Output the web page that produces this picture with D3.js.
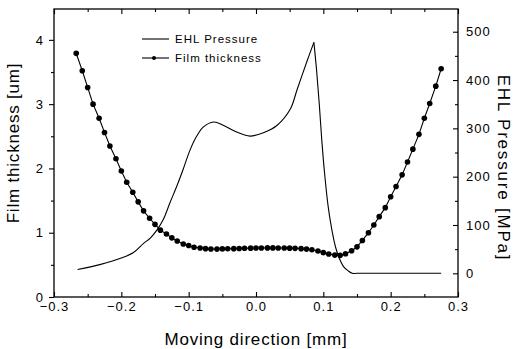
<!DOCTYPE html>
<html>
<head>
<meta charset="utf-8">
<script src="https://cdn.jsdelivr.net/npm/d3@7"></script>
<style>
  html, body { margin: 0; padding: 0; background: #fff; }
  svg { display: block; }
</style>
</head>
<body>
<div id="chart"></div>
<script>
// tick labels
const xTicks = [-0.3, -0.2, -0.1, 0.0, 0.1, 0.2, 0.3];
const xMinorTicks = [-0.25, -0.15, -0.05, 0.05, 0.15, 0.25];
const thicknessTicks = [0, 1, 2, 3, 4];
const thicknessMinorTicks = [0.5, 1.5, 2.5, 3.5];
const pressureTicks = [0, 100, 200, 300, 400, 500];
const pressureMinorTicks = [50, 150, 250, 350, 450];

// film thickness [um], one dot per position
const filmX = [-0.267, -0.258, -0.250, -0.242, -0.233, -0.225, -0.217, -0.208, -0.200, -0.192,
               -0.183, -0.175, -0.167, -0.158, -0.150, -0.142, -0.133, -0.125, -0.117, -0.108,
               -0.100, -0.092, -0.083, -0.075, -0.067, -0.058, -0.050, -0.042, -0.033, -0.025,
               -0.017, -0.008, 0.000, 0.008, 0.017, 0.025, 0.033, 0.042, 0.050, 0.058,
               0.067, 0.075, 0.083, 0.092, 0.100, 0.108, 0.117, 0.125, 0.133, 0.142,
               0.150, 0.158, 0.167, 0.175, 0.183, 0.192, 0.200, 0.208, 0.217, 0.225,
               0.233, 0.242, 0.250, 0.258, 0.267, 0.275];
const filmThickness = [3.79, 3.52, 3.26, 3.00, 2.78, 2.56, 2.35, 2.15, 1.96, 1.785,
                       1.63, 1.48, 1.34, 1.225, 1.13, 1.04, 0.98, 0.92, 0.87, 0.825,
                       0.80, 0.775, 0.763, 0.752, 0.747, 0.745, 0.748, 0.75, 0.752, 0.755,
                       0.758, 0.76, 0.762, 0.763, 0.764, 0.764, 0.763, 0.762, 0.76, 0.757,
                       0.752, 0.745, 0.735, 0.715, 0.69, 0.668, 0.652, 0.648, 0.672, 0.72,
                       0.78, 0.88, 1.0, 1.12, 1.25, 1.39, 1.56, 1.72, 1.90, 2.10,
                       2.30, 2.53, 2.78, 3.01, 3.28, 3.55];

// EHL pressure [MPa]
const pressureX = [-0.265, -0.232, -0.199, -0.182, -0.167, -0.157, -0.147, -0.1375, -0.1275, -0.118,
                   -0.108, -0.098, -0.088, -0.078, -0.063, -0.048, -0.028, -0.009, 0.011, 0.031,
                   0.051, 0.061, 0.076, 0.086, 0.090, 0.094, 0.098, 0.102, 0.107, 0.112,
                   0.118, 0.124, 0.130, 0.137, 0.143, 0.150, 0.275];
const pressureMPa = [8, 18, 32, 43, 62, 73, 90, 112, 147, 179,
                     216, 255, 284, 303, 313, 306, 292, 284, 291, 306,
                     340, 380, 440, 478, 420, 350, 270, 205, 140, 95,
                     55, 30, 14, 5, 0, 0, 0];

const legendLabels = ['EHL Pressure', 'Film thickness'];

const width = 513;
const height = 349;
const plotLeft = 54, plotRight = 458, plotTop = 9, plotBottom = 297;
const font = "'Liberation Sans', Arial, sans-serif";

const svg = d3.select('#chart').append('svg')
     .attr('width', width)
     .attr('height', height);

const x = d3.scaleLinear().domain([-0.3, 0.3]).range([plotLeft, plotRight]);
const yThick = d3.scaleLinear().domain([0, 4.48]).range([plotBottom, plotTop]);
const yPress = d3.scaleLinear().domain([-49, 547]).range([plotBottom, plotTop]);

function styleAxis(g) {
     g.select('.domain').remove();
     g.selectAll('line').attr('stroke', '#000').attr('stroke-width', 1.1);
     g.selectAll('text')
          .attr('fill', '#000')
          .style('font-family', font)
          .style('font-size', '13px')
          .style('letter-spacing', '1px');
     g.attr('font-family', null).attr('font-size', null);
}

// bottom axis, ticks inward
svg.append('g')
     .attr('transform', `translate(0, ${plotBottom})`)
     .call(d3.axisBottom(x).tickValues(xTicks).tickSize(-5).tickPadding(5).tickFormat(d3.format('.1f')))
     .call(styleAxis);
svg.append('g')
     .attr('transform', `translate(0, ${plotBottom})`)
     .call(d3.axisBottom(x).tickValues(xMinorTicks).tickSize(-3).tickFormat(''))
     .call(styleAxis);

// top axis
svg.append('g')
     .attr('transform', `translate(0, ${plotTop})`)
     .call(d3.axisTop(x).tickValues(xTicks).tickSize(-5).tickFormat(''))
     .call(styleAxis);
svg.append('g')
     .attr('transform', `translate(0, ${plotTop})`)
     .call(d3.axisTop(x).tickValues(xMinorTicks).tickSize(-3).tickFormat(''))
     .call(styleAxis);

// left axis, film thickness
svg.append('g')
     .attr('transform', `translate(${plotLeft}, 0)`)
     .call(d3.axisLeft(yThick).tickValues(thicknessTicks).tickSize(5).tickPadding(5).tickFormat(d3.format('d')))
     .call(styleAxis);
svg.append('g')
     .attr('transform', `translate(${plotLeft}, 0)`)
     .call(d3.axisLeft(yThick).tickValues(thicknessMinorTicks).tickSize(3).tickFormat(''))
     .call(styleAxis);

// right axis, pressure
svg.append('g')
     .attr('transform', `translate(${plotRight}, 0)`)
     .call(d3.axisRight(yPress).tickValues(pressureTicks).tickSize(-5).tickPadding(8))
     .call(styleAxis);
svg.append('g')
     .attr('transform', `translate(${plotRight}, 0)`)
     .call(d3.axisRight(yPress).tickValues(pressureMinorTicks).tickSize(-3).tickFormat(''))
     .call(styleAxis);

// frame
svg.append('rect')
     .attr('x', plotLeft)
     .attr('y', plotTop)
     .attr('width', plotRight - plotLeft)
     .attr('height', plotBottom - plotTop)
     .attr('fill', 'none')
     .attr('stroke', '#000')
     .attr('stroke-width', 1.3);

// pressure curve, split at the peak so the tip stays sharp
const pressData = pressureX.map((d, i) => ({x: d, p: pressureMPa[i]}));
const peak = d3.maxIndex(pressureMPa);
const pressLine = d3.line()
     .x(d => x(d.x))
     .y(d => yPress(d.p))
     .curve(d3.curveCatmullRom.alpha(0.5));

[pressData.slice(0, peak + 1), pressData.slice(peak)].forEach(part => {
     svg.append('path')
          .attr('d', pressLine(part))
          .attr('fill', 'none')
          .attr('stroke', '#000')
          .attr('stroke-width', 1.1);
});

// film thickness line + dots
const filmData = filmX.map((d, i) => ({x: d, h: filmThickness[i]}));
svg.append('path')
     .attr('d', d3.line().x(d => x(d.x)).y(d => yThick(d.h))(filmData))
     .attr('fill', 'none')
     .attr('stroke', '#000')
     .attr('stroke-width', 1.1);

svg.selectAll('circle.film')
     .data(filmData)
     .enter()
          .append('circle')
               .attr('class', 'film')
               .attr('cx', d => x(d.x))
               .attr('cy', d => yThick(d.h))
               .attr('r', 2.8)
               .attr('fill', '#000');

// legend
const legend = svg.append('g').attr('transform', 'translate(142, 39)');
legendLabels.forEach((label, i) => {
     const row = legend.append('g').attr('transform', `translate(0, ${i * 19})`);
     row.append('line')
          .attr('x1', 0).attr('x2', 27)
          .attr('y1', 0).attr('y2', 0)
          .attr('stroke', '#000')
          .attr('stroke-width', 1.1);
     if (i === 1) {
          row.append('circle').attr('cx', 12).attr('cy', 0).attr('r', 2).attr('fill', '#000');
     }
     row.append('text')
          .attr('x', 33)
          .attr('y', 4)
          .style('font-family', font)
          .style('font-size', '11.5px')
          .style('letter-spacing', '1px')
          .text(label);
});

// axis titles
svg.append('text')
     .attr('x', 256)
     .attr('y', 345)
     .attr('text-anchor', 'middle')
     .style('font-family', font)
     .style('font-size', '17px')
     .style('letter-spacing', '0.8px')
     .text('Moving direction [mm]');

svg.append('text')
     .attr('transform', 'translate(19, 143) rotate(-90)')
     .attr('text-anchor', 'middle')
     .style('font-family', font)
     .style('font-size', '17px')
     .style('letter-spacing', '0.8px')
     .text('Film thickness [um]');

svg.append('text')
     .attr('transform', 'translate(498, 168) rotate(90)')
     .attr('text-anchor', 'middle')
     .style('font-family', font)
     .style('font-size', '17px')
     .style('letter-spacing', '1.8px')
     .text('EHL Pressure [MPa]');
</script>
</body>
</html>
